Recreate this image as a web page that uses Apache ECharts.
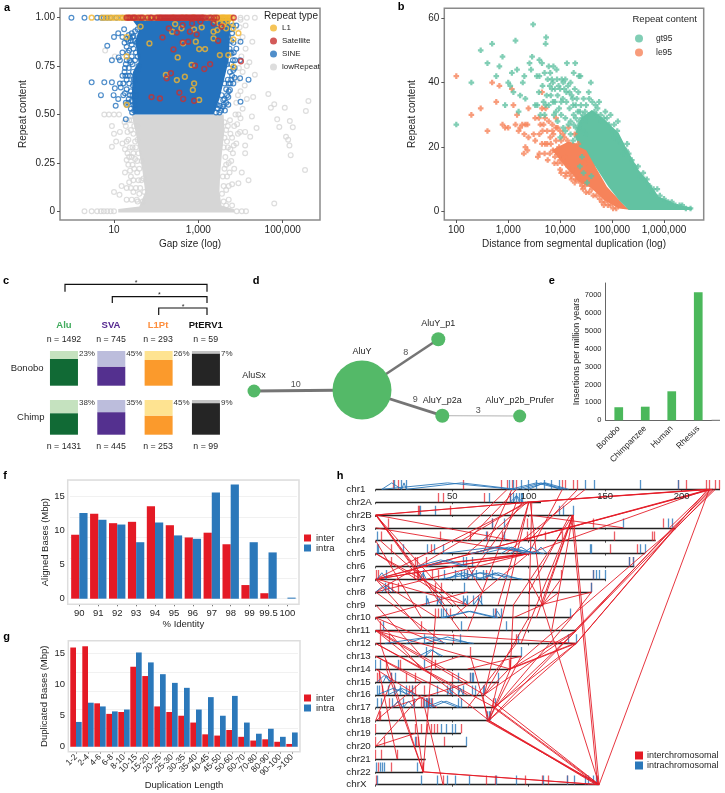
<!DOCTYPE html>
<html>
<head>
<meta charset="utf-8">
<title>Repeat and duplication panels</title>
<script src="https://cdn.jsdelivr.net/npm/echarts@6/dist/echarts.min.js"></script>
<style>
  html, body { margin: 0; padding: 0; background: #fff; }
  #chart { width: 725px; height: 793px; }
</style>
</head>
<body>
<div id="chart"></div>
<script>
// panel a: [log10 gap size, repeat content]
const l1Top = [0.47,0.72,0.8,0.88,0.95,1.02,1.1,1.16,1.22,1.28,1.36,1.42,1.5,1.55,1.62,1.7,1.76,1.84,1.95,2.05,2.4,2.62,2.72,2.86,2.9,3.1,3.2,3.3,3.36,3.42,3.48,3.52,3.55,3.58,3.6,3.63,3.66,3.7,3.73,3.76,3.8];
const satelliteTop = [1.3,1.34,1.38,1.44,1.47,1.5,1.58,1.64,1.68,1.8,1.87,1.9,2.0,2.03,2.08,2.1,2.13,2.16,2.19,2.22,2.25,2.28,2.31,2.34,2.37,2.4,2.43,2.46,2.49,2.52,2.55,2.58,2.61,2.64,2.67,2.7,2.73,2.76,2.79,2.82,2.85,2.88,2.91,2.94,2.97,3.0,3.03,3.06,3.09,3.12,3.16,3.25,3.3,3.38,3.44,3.84];
const sineTop = [-0.01,0.3,0.6,0.7,0.76,0.84,0.92,1.06,1.2];
const lowTop = [4.0,4.15,4.34];
const l1Points = [[2.45,0.967],[2.38,0.928],[2.6,0.945],[1.84,0.867],[1.3,0.8],[1.3,0.55],[2.23,0.704],[2.49,0.678],[2.68,0.695],[2.51,0.795],[2.64,0.868],[2.94,0.876],[3.02,0.838],[3.16,0.838],[3.51,0.807],[3.71,0.807],[3.83,0.747],[2.9,0.94],[3.08,0.95],[3.36,0.928],[3.36,0.893],[3.45,0.936],[3.66,0.945],[3.83,0.945],[3.95,0.92],[3.83,0.888],[2.84,0.756],[2.9,0.66],[2.87,0.627],[3.02,0.575],[1.63,0.954],[1.3,0.9],[3.5,0.97],[3.58,0.96],[3.7,0.985],[3.78,0.975],[3.4,0.985],[3.62,0.975]];
const satellitePoints = [[2.15,0.898],[2.3,0.945],[2.49,0.923],[2.63,0.962],[2.8,0.928],[2.96,0.914],[2.76,0.876],[2.41,0.836],[2.63,0.873],[2.35,0.713],[2.25,0.687],[2.55,0.613],[1.89,0.59],[2.09,0.583],[2.64,0.58],[2.9,0.571],[2.92,0.752],[3.14,0.735],[3.28,0.76],[3.47,0.881],[3.55,0.954],[4.01,0.775],[3.36,0.97],[2.85,0.97],[3.05,0.98]];
const sinePoints = [[1.1,0.92],[1.24,0.94],[0.84,0.855],[1.0,0.9],[0.95,0.78],[1.11,0.795],[1.14,0.78],[0.47,0.666],[0.77,0.666],[0.95,0.666],[0.69,0.6],[0.99,0.6],[1.04,0.545],[1.14,0.66],[1.02,0.635],[1.1,0.58],[1.16,0.64],[1.28,0.475],[1.28,0.56],[1.26,0.61],[1.2,0.9],[1.25,0.87],[1.3,0.85],[1.2,0.82],[1.3,0.78],[1.35,0.74],[1.25,0.72],[1.2,0.7],[1.3,0.68],[1.22,0.66],[1.3,0.63],[1.22,0.6],[1.35,0.58],[1.3,0.55],[1.4,0.53],[1.42,0.86],[1.42,0.8],[1.45,0.72],[1.45,0.65],[1.35,0.91],[1.42,0.92],[1.5,0.93],[1.56,0.94],[1.62,0.95],[1.3,0.89],[1.38,0.895],[1.46,0.905],[1.28,0.76],[1.27,0.7],[1.26,0.74],[1.36,0.83],[1.4,0.77],[1.38,0.7],[1.4,0.62],[1.42,0.57],[1.5,0.88],[1.52,0.82],[1.5,0.78],[1.55,0.73],[1.5,0.68],[1.52,0.6],[1.5,0.55],[3.9,0.96],[4.0,0.876],[3.99,0.78],[4.19,0.68],[3.99,0.687],[4.0,0.566],[3.71,0.55],[3.42,0.51],[3.51,0.545],[3.75,0.627],[3.83,0.66],[3.83,0.73],[3.87,0.78],[3.79,0.815],[3.83,0.87],[3.71,0.9],[3.79,0.94],[3.71,0.59],[3.59,0.575],[3.63,0.52],[3.46,0.53],[3.55,0.6],[3.66,0.63],[3.7,0.68],[3.75,0.72],[3.68,0.76],[3.78,0.76],[3.74,0.84],[3.7,0.96],[3.6,0.55],[3.62,0.66],[3.72,0.66],[3.86,0.69],[3.9,0.84],
  [1.34,0.88],[1.4,0.88],[1.33,0.82],[1.37,0.78],[1.33,0.7],[1.36,0.66],[1.38,0.6],[1.34,0.56],[1.44,0.9],[1.46,0.84],[1.44,0.76],[1.47,0.68],[1.44,0.6],[1.46,0.55],[1.48,0.52],[1.43,0.51],[1.54,0.87],[1.56,0.8],[1.58,0.75],[3.5,0.51],[3.44,0.55],[3.54,0.52],[3.58,0.54],[3.62,0.58],[3.66,0.56],[3.68,0.6],[3.72,0.62],[3.76,0.66],[3.8,0.7],[3.78,0.68],[3.82,0.78],[3.84,0.82],[3.86,0.74],[3.78,0.88],[3.8,0.92],[3.82,0.96],[3.76,0.82]];
const lowPoints = [[4.66,0.606],[5.61,0.57],[5.55,0.518],[5.05,0.535],[4.8,0.553],[4.72,0.535],[4.87,0.475],[4.92,0.435],[5.17,0.466],[5.24,0.434],[5.08,0.385],[5.13,0.37],[5.16,0.34],[5.19,0.29],[5.53,0.213],[4.8,0.04],[4.38,0.43],[4.28,0.876],[4.21,0.77],[4.34,0.705],[4.3,0.59],[4.27,0.49],[4.23,0.385],[4.19,0.16],[4.03,0.2],[3.95,0.145],[4.11,0.3],[4.11,0.34],[4.11,0.41],[3.99,0.41],[0.79,0.83],[1.02,0.8],[0.77,0.5],[0.88,0.5],[1.0,0.5],[1.12,0.5],[0.95,0.44],[0.95,0.333],[1.0,0.4],[1.05,0.36],[1.14,0.41],[1.0,0.1],[1.13,0.085],[1.18,0.13],[1.3,0.12],[1.3,0.06],[1.42,0.06],[1.26,0.2],[1.3,0.265],[1.26,0.32],[1.2,0.35],[1.34,0.37],[1.38,0.21],[1.46,0.16],[1.54,0.06],[1.28,0.44],[1.36,0.47],[1.4,0.42],[1.32,0.3],[1.46,0.4],[1.44,0.33],[1.5,0.27],[1.44,0.24],[1.55,0.2],[1.52,0.12],[1.6,0.09],[1.68,0.05],[1.36,0.15],[1.5,0.36],[1.55,0.44],[3.75,0.47],[3.85,0.44],[3.8,0.38],[3.9,0.35],[3.7,0.33],[3.82,0.3],[3.72,0.25],[3.85,0.22],[3.68,0.18],[3.8,0.14],[3.66,0.11],[3.72,0.06],[3.6,0.05],[3.95,0.5],[4.05,0.53],[4.0,0.62],[4.1,0.65],[4.05,0.72],[4.15,0.75],[4.02,0.8],[4.12,0.84],[4.05,0.9],[4.12,0.96],[4.0,0.48],[4.15,0.58],[0.3,0],[0.47,0],[0.6,0],[0.69,0],[0.76,0],[0.84,0],[0.92,0],[1.0,0],[3.91,0],[4.03,0],[4.13,0],
  [1.25,0.46],[1.32,0.41],[1.3,0.36],[1.38,0.33],[1.36,0.28],[1.42,0.28],[1.34,0.24],[1.4,0.18],[1.48,0.22],[1.46,0.3],[1.52,0.33],[1.48,0.44],[1.42,0.47],[1.56,0.37],[1.58,0.3],[1.55,0.26],[1.6,0.22],[1.58,0.16],[1.65,0.16],[1.62,0.12],[1.46,0.1],[1.4,0.12],[1.56,0.05],[1.72,0.1],[1.7,0.17],[1.66,0.26],[3.62,0.46],[3.66,0.42],[3.7,0.44],[3.62,0.38],[3.68,0.36],[3.76,0.4],[3.6,0.33],[3.64,0.28],[3.76,0.32],[3.78,0.26],[3.62,0.22],[3.66,0.24],[3.74,0.2],[3.58,0.18],[3.6,0.13],[3.72,0.13],[3.56,0.09],[3.66,0.03],[3.8,0.03],[3.88,0.5],[3.92,0.45],[3.94,0.4],[3.84,0.34],[3.9,0.56],[3.94,0.6],[3.92,0.68],[3.96,0.74],[3.94,0.88],[3.98,0.95],[4.0,0.99]];
// dense cores as outlines [log10 gap size, repeat content]
const sineCore = [[1.46,0.5],[1.42,0.6],[1.45,0.72],[1.58,0.77],[1.5,0.88],[1.6,0.94],[1.4,1.0],[3.75,1.0],[3.75,0.93],[3.72,0.78],[3.6,0.67],[3.5,0.58],[3.36,0.5]];
const lowCore = [[1.42,0.5],[1.52,0.4],[1.6,0.3],[1.68,0.2],[1.74,0.1],[1.6,0.025],[1.1,0.012],[1.1,-0.006],[3.85,-0.006],[3.85,0.01],[3.55,0.03],[3.5,0.1],[3.52,0.2],[3.56,0.3],[3.62,0.42],[3.6,0.5]];

// panel b: [log10 distance, repeat content]
const gt95Points = [[2,27],[2.29,40],[2.47,50],[2.6,46],[2.69,52],[2.77,42],[2.83,45],[2.89,48],[2.94,33],[3,40],[3.04,39],[3.07,43],[3.1,37],[3.14,53],[3.17,44],[3.2,31],[3.23,36],[3.28,40],[3.31,42],[3.33,35],[3.41,46],[3.44,44],[3.46,48],[3.48,58],[3.52,33],[3.55,42],[3.59,37],[3.6,47],[3.6,42],[3.65,46],[3.73,54],[3.72,52],[3.68,34],[3.78,45],[3.81,43],[3.84,41],[3.87,45],[3.93,44],[4.13,46],[4.29,46],[3.97,39],[4.03,41],[4.1,41],[4.26,43],[4.36,42],[4.39,42],[4.59,40],[4.55,37],[4.68,33],[4.75,34],[4.87,31],[4.97,30],[5.11,28],[5.04,27],[5.29,21],[5.27,19],[5.6,12],[5.5,14],[5.67,10],[5.8,7],[5.87,7],[6.15,3],[6.35,2],[6.51,1],[3.56,33],[3.62,30],[3.7,30],[3.78,33],[3.82,36],[3.84,38],[3.9,34],[3.95,36],[3.98,32],[3.88,30],[3.95,28],[4.02,30],[4.05,35],[4.08,38],[4.12,34],[4.15,39],[4.18,37],[4.18,32],[4.22,36],[4.25,33],[4.28,38],[4.32,35],[4.35,37],[4.4,33],[4.45,35],[4.42,29],[4.48,31],[4.1,29],[4.2,28],[4.3,29],[4.35,26],[4.5,33],[4.55,30],[4.62,34],[4.7,30],[4.8,28],[4.9,29],[5.0,25],[5.1,25],[4.0,23],[4.1,25],[4.2,24],[4.25,22],[4.42,17],[4.38,14],[4.45,12],[4.52,9],[4.6,11],
  [3.7,43],[3.76,41],[3.8,39],[3.86,40],[3.9,38],[3.94,41],[4.0,38],[4.06,40],[4.12,37],[4.2,40],[4.24,35],[4.3,33],[4.38,31],[4.44,30],[4.5,28],[4.56,35],[4.6,30],[4.66,31],[4.72,32],[4.78,30],[4.84,29],[4.94,27],[5.04,23],[5.12,22],[5.18,21],[5.22,18],[5.32,18],[5.38,16],[5.44,14],[5.54,11],[5.62,10],[5.72,8],[5.78,6],[5.92,5],[6.0,4],[6.08,3],[6.22,2],[6.3,2],[6.42,1],[4.3,26],[4.32,23],[4.38,27],[4.44,25],[4.5,24],[4.36,28],[4.26,27],[4.16,27],[4.06,26],[4.02,34],[3.92,31],[3.86,34],[3.74,36],[3.66,39],[3.72,33],[4.26,30],[4.34,31]];
const le95Points = [[2,42],[2.29,30],[2.47,32],[2.6,25],[2.69,40],[2.77,34],[2.83,39],[2.89,27],[2.94,26],[3,26],[3.07,38],[3.1,33],[3.14,27],[3.17,30],[3.2,25],[3.23,26],[3.27,27],[3.33,27],[3.31,24],[3.39,32],[3.37,27],[3.39,23],[3.33,20],[3.3,18],[3.37,19],[3.52,29],[3.59,29],[3.65,37],[3.65,32],[3.57,17],[3.52,22],[3.49,24],[3.62,27],[3.68,27],[3.71,29],[3.75,25],[3.71,21],[3.7,18],[3.81,23],[3.87,24],[3.89,15],[4,13],[4.1,11],[4.21,11],[4.39,9],[4.61,7],[4.87,3],[4.97,2],[5.13,2],[3.6,24],[3.65,21],[3.6,18],[3.75,21],[3.8,18],[3.76,16],[3.85,27],[3.92,22],[3.95,26],[3.98,20],[4.05,24],[4.16,26],[4.08,17],[3.95,15],[4.02,12],[4.15,14],[4.25,13],[4.3,10],[4.42,8],[4.5,6],[4.55,12],[4.48,15],
  [3.72,32],[3.78,28],[4.28,24],[4.35,21],[3.92,29],[3.66,25],[3.82,21],[3.86,19],[3.9,17],[3.94,19],[4.0,16],[4.04,15],[4.12,12],[4.18,12],[4.22,10],[4.28,9],[4.34,10],[4.44,7],[4.48,8],[4.56,6],[4.64,5],[4.7,5],[4.76,4],[4.8,3],[4.84,2],[4.92,2],[5.02,1],[5.08,1],[3.92,26],[4.02,22],[4.08,23],[4.14,22],[4.0,25],[3.85,25]];
const gt95Core = [[4.28,24],[4.4,29],[4.61,31.5],[4.87,28.4],[5.13,24.3],[5.26,20.1],[5.51,12.9],[5.7,9.3],[5.9,4.6],[6.28,2.1],[6.54,1.3],[6.54,0.5],[5.32,0.5],[5.13,3.6],[4.93,7.7],[4.68,13.9],[4.5,19],[4.36,20.1]];
const le95Core = [[3.84,19.1],[4.16,21.7],[4.55,20.1],[4.68,13.9],[4.9,7.7],[5.26,1.5],[5.38,0.5],[5.13,1],[4.84,3.6],[4.61,7.2],[4.36,9.3],[4.1,13.9]];

// panel c
const familyNames = ['Alu', 'SVA', 'L1Pt', 'PtERV1'];
const bonoboN = [1492, 745, 293, 59];
const chimpN = [1431, 445, 253, 99];
const bonoboPct = [23, 45, 26, 7];
const chimpPct = [38, 35, 45, 9];
const familyDark = ['#116a35', '#54308f', '#fb9a2c', '#252525'];
const familyLight = ['#c5e2bf', '#bcbddc', '#fee391', '#c4c4c4'];
const familyText = ['#41ab5d', '#54278f', '#fd8d3c', '#111111'];

// panel d, layout units
const aluNodes = [['AluSx',14,71,13],['AluY',122,70,59],['AluY_p1',198.3,19.3,14],['AluY_p2a',202.3,95.7,14],['AluY_p2b_Prufer',279.7,96,13]];
const aluEdges = [['AluSx','AluY',10],['AluY','AluY_p1',8],['AluY','AluY_p2a',9],['AluY_p2a','AluY_p2b_Prufer',3]];
const aluEdgeLabels = [[55.7,64.3,10],[165.7,32.7,8],[175.3,80,9],[238.3,90.7,3]];

// panel e
const species = ['Bonobo', 'Chimpanzee', 'Human', 'Rhesus'];
const insertions = [730, 760, 1620, 7150];
const insertionTicks = [0, 1000, 2000, 3000, 4000, 5000, 6000, 7000];

// panel f
const identityBins = ['90','91','92','93','94','95','96','97','98','99','99.5','100'];
const alignedInter = [9.4,12.5,11.1,11.3,13.6,10.8,9.0,9.7,8.0,2.0,0.8,0];
const alignedIntra = [12.6,11.6,10.9,8.3,11.2,9.3,8.8,15.6,16.8,8.3,6.8,0.15];

// panel g
const lengthBins = ['1-2','2-4','4-6','6-8','8-10','10-15','15-20','20-25','25-30','30-35','35-40','40-45','45-50','50-60','60-70','70-80','80-90','90-100','>100'];
const duplicatedInter = [16,16.2,7.0,5.3,5.6,12.9,11.4,6.5,5.6,5.0,3.9,2.0,1.8,2.7,1.6,1.0,1.2,0.8,0.45];
const duplicatedIntra = [4.0,7.1,6.5,5.7,6.0,15.2,13.6,11.7,10.3,9.5,6.0,8.0,5.0,8.2,3.9,2.1,2.9,1.6,2.3];

// panel h, positions in Mb
const chroms = ['chr1','chr2A','chr2B','chr3','chr4','chr5','chr6','chr7','chr8','chr9','chr10','chr11','chr12','chr13','chr14','chr15','chr16','chr17','chr18','chr19','chr20','chr21','chr22','chrX'];
const chromLengths = [225,108,129,196,183,176,169,150.5,141,109.5,128,131,131,95.4,88,80.6,71,78,74.7,55.7,59.5,32.7,31,146];
const interTicks = [
  [11.5,15,57,82,86,89,92,122,124,129,132,198,203,216,218,222,224.5],
  [41,44,71,88],
  [28,28.6,49],
  [8,76,99,142,188],
  [3.5,42,62,73,83,99,111,122,156,181,182],
  [10,36,153,171],
  [10,26,27,33,166,168],
  [0.5,1.5,25,27,28,37,41,60,72,121,142],
  [8,11,15,39,43,141],
  [],
  [39,41,49,78],
  [3,30],
  [3,9,51,92],
  [62],
  [7,16,39,87,88],
  [1,2,10,20,26,50,62],
  [4,22,24,26,32],
  [9,30,31,33,35,37,77],
  [2,3],
  [0,26,30,34,36,38,40,56],
  [0,5.5,26.5,28,45],
  [0,3.5,14],
  [1.5,10,31],
  [0.5,44,72,78,98,109,113,125,145]
];
const intraTicks = [
  [12,17,20,87,90,95,100,105,110,115,120,137,143,173,198],
  [74,88,90,92,94,95,96],
  [29,39,120,122.5,129],
  [76,84,162,191,194],
  [1,72,84],
  [0.7,1.4,18,34,38,44,140,141,173,176],
  [57,59,63,166,168],
  [7,31,45,52,56,58,60,63,66,70,76,142,144,146,150],
  [6,58,141],
  [33,40,43,57,60,64,67,69],
  [43,44,46,77,79,82,127],
  [5,56,85],
  [32,55,93,126,131],
  [33,95],
  [0,3,15,32],
  [10,13,54,62,63,64,80],
  [1,2,8,12,16,20,24,40,47,49,50,54,57,63,65,70,71],
  [1,3.5,11,18,25,32,33,34,35,36,54,56,78],
  [73,74,74.7],
  [43,46,50,52],
  [26,59],
  [],
  [0.5,3,4,5.6,27],
  [1,30,40,47,52,61,78.5,92,109.5,125,130,137,139,142,144]
];
const intraArcs = [
  ['chr1',4,17],['chr1',17,20],['chr1',4,90],['chr1',20,92],['chr1',88,122],['chr1',92,124],['chr1',96,126],['chr1',100,120],
  ['chr2A',88,96],['chr2A',90,94],
  ['chr5',44,110],['chr5',62,100],['chr5',70,104],['chr5',82,96],['chr5',88,102],['chr5',96,108],['chr5',104,112],
  ['chr6',27,58],['chr6',34,60],
  ['chr7',1,7],['chr7',29,33],['chr7',42,96],['chr7',45,70],['chr7',56,80],['chr7',66,94],['chr7',70,86],['chr7',48,60],
  ['chr8',0,10],['chr8',4,12],
  ['chr9',33,35],['chr9',40,43],['chr9',57,60],['chr9',64,70],
  ['chr10',43,78],['chr10',44,80],['chr10',77,82],
  ['chr12',6,64],['chr12',20,46],['chr12',32,62],
  ['chr13',28,44],['chr13',32,42],
  ['chr15',1,10],['chr15',5,9],
  ['chr16',1,22],['chr16',8,26],['chr16',12,20],['chr16',47,50],['chr16',54,57],
  ['chr17',11,18],['chr17',18,25],['chr17',32,54],['chr17',36,56]
];
const interLinks = [
  ['chr1',218,'chr2A',100],['chr1',220,'chr2A',101],['chr1',216,'chr2A',99],
  ['chr1',220,'chr7',0],['chr1',218,'chr7',1],['chr1',217,'chr5',100],['chr1',219,'chr4',95],
  ['chr1',222,'chr3',196],['chr1',220,'chr3',194],['chr1',218,'chr3',192],
  ['chr1',221,'chr11',131],['chr1',219,'chr11',130],['chr1',217,'chr12',131],['chr1',218,'chrX',146],
  ['chr1',137,'chr5',85],['chr1',122,'chr5',100],['chr1',132,'chr4',100],['chr1',92,'chr4',60],['chr1',86,'chr3',60],['chr1',89,'chr5',70],
  ['chr2A',100,'chr2B',0],['chr2A',101,'chr2B',0.5],['chr2A',100,'chr7',0],['chr2A',98,'chr8',0],['chr2A',99,'chr5',60],
  ['chr2A',100,'chr9',80],['chr2A',101,'chr9',109],['chr2A',102,'chr10',100],['chr2A',100,'chr16',71],['chr2A',92,'chr11',60],
  ['chr2A',96,'chr7',60],
  ['chr2B',0,'chr9',45],['chr2B',0,'chr10',60],['chr2B',0,'chr4',90],['chr2B',0,'chr7',30],['chr2B',0.5,'chr11',55],
  ['chr2B',129,'chrX',146],['chr2B',128,'chrX',145],['chr2B',129,'chr9',109],['chr2B',129,'chr10',105],
  ['chr2B',129,'chr12',95],['chr2B',127,'chr8',100],['chr2B',129,'chr11',115],['chr2B',129,'chr9',90],
  ['chr3',0,'chr5',100],['chr3',162,'chr2B',100],['chr3',196,'chr12',131],['chr3',195,'chr14',88],['chr3',194,'chr11',131],
  ['chr4',0,'chr10',30],['chr4',3,'chr9',50],
  ['chr5',0,'chr9',60],['chr5',0,'chr8',40],['chr5',100,'chr7',0.5],['chr5',101,'chr7',1],['chr5',100,'chr8',0],['chr5',100,'chr10',50],
  ['chr6',27,'chr5',100],['chr6',30,'chr5',102],['chr6',60,'chr8',70],
  ['chr7',0,'chr10',40],['chr7',0,'chr11',30],['chr7',1,'chr9',60],['chr7',121,'chr9',109],['chr7',100,'chr9',109],
  ['chr8',0,'chr12',45],['chr8',60,'chr10',0],['chr8',120,'chr9',109],['chr8',141,'chr9',108],
  ['chr9',109,'chrX',146],['chr9',109,'chr10',90],['chr9',0,'chr13',30],['chr9',90,'chr14',88],
  ['chr10',0,'chr14',30],['chr10',0,'chr12',40],['chr10',100,'chr16',71],['chr10',128,'chr17',78],['chr10',128,'chr8',141],
  ['chr11',0,'chr14',88],['chr11',0,'chr16',71],['chr11',0,'chr18',74],['chr11',0,'chr12',131],['chr11',1,'chr15',60],['chr11',131,'chr18',74],['chr11',131,'chr17',78],['chr11',131,'chr16',71],['chr11',131,'chr14',88],
  ['chr12',0,'chr17',78],['chr12',0,'chr16',60],['chr12',131,'chr18',74],['chr12',131,'chr17',77],['chr12',131,'chr14',88],['chr12',130,'chr14',87],['chr12',92,'chr17',60],
  ['chr13',0,'chr16',50],['chr13',0,'chr15',30],['chr13',95,'chr17',78],['chr13',95,'chr14',60],['chr13',62,'chr18',74],
  ['chr14',0,'chr17',40],['chr14',88,'chr18',74],['chr14',87,'chr16',71],['chr14',30,'chr13',55],['chr14',7,'chr22',31],
  ['chr15',10,'chr18',0],['chr15',30,'chr18',0.5],['chr15',80,'chr18',74],['chr15',62,'chr17',10],
  ['chr16',71,'chrX',146],['chr16',70,'chr18',73],['chr16',30,'chr20',0],['chr16',24,'chr22',31],
  ['chr17',78,'chrX',146],['chr17',77,'chrX',145],['chr17',32,'chrX',44],['chr17',78,'chr18',74],
  ['chr18',74,'chrX',146],['chr18',73,'chrX',145],['chr18',74,'chrX',144],['chr18',72,'chrX',146],
  ['chr19',26,'chr20',0],['chr12',3,'chr22',31],['chr10',39,'chr22',31],
  ['chr22',31,'chrX',146],['chr22',30,'chrX',145],['chr21',14,'chr14',2]
];

const FONT = 'Liberation Sans, Arial, sans-serif';
const INK = '#1f1f1f';
const RED = '#e41a25';
const BLUE = '#2b78ba';
const PLUS = 'path://M3,0h4v3h3v4h-3v3h-4v-3h-3v-4h3z';
const chart = echarts.init(document.getElementById('chart'));

// outline drawn through the axis scales
function coreSeries(outline, fill, xIdx) {
  return {
    type: 'custom', name: 'core', coordinateSystem: 'cartesian2d', xAxisIndex: xIdx, yAxisIndex: xIdx,
    data: [0], silent: true,
    renderItem: (params, api) => ({
      type: 'polygon',
      shape: { points: outline.map((p) => api.coord(p)) },
      style: { fill: fill }
    })
  };
}
function openCircles(name, pts, color, xIdx, width) {
  return {
    type: 'scatter', name: name, xAxisIndex: xIdx, yAxisIndex: xIdx, data: pts, symbolSize: 4.8,
    itemStyle: { color: 'transparent', borderColor: color, borderWidth: width || 1.2 }
  };
}
function plusMarks(name, pts, color, xIdx) {
  return {
    type: 'scatter', name: name, xAxisIndex: xIdx, yAxisIndex: xIdx, data: pts, symbol: PLUS, symbolSize: 5.6,
    itemStyle: { color: color }
  };
}
function logAxis(idx, min, max, ticks, name, nameGap) {
  return {
    type: 'value', gridIndex: idx, min: min, max: max, name: name, nameLocation: 'middle', nameGap: nameGap,
    nameTextStyle: { fontFamily: FONT, fontSize: 10, color: INK },
    axisLine: { show: false, onZero: false }, splitLine: { show: false },
    axisTick: { show: true, length: 3, customValues: ticks, lineStyle: { color: '#555' } },
    axisLabel: { customValues: ticks, margin: 5, fontFamily: FONT, fontSize: 10, color: INK,
      formatter: (v) => Math.round(Math.pow(10, v)).toLocaleString('en-US') }
  };
}
function plainY(idx, min, max, ticks, name, nameGap, fmt, size) {
  return {
    type: 'value', gridIndex: idx, min: min, max: max, name: name, nameLocation: 'middle', nameGap: nameGap,
    nameTextStyle: { fontFamily: FONT, fontSize: size, color: INK },
    axisLine: { show: false, onZero: false }, splitLine: { show: false },
    axisTick: { show: true, length: 3, customValues: ticks, lineStyle: { color: '#555' } },
    axisLabel: { customValues: ticks, margin: 5, fontFamily: FONT, fontSize: size, color: INK, formatter: fmt }
  };
}
function hiddenAxes(idx, xmin, xmax, ymin, ymax, inv) {
  return [
    { type: 'value', gridIndex: idx, min: xmin, max: xmax, show: false },
    { type: 'value', gridIndex: idx, min: ymin, max: ymax, show: false, inverse: !!inv }
  ];
}
function familyBars(idx, pct) {
  return [
    { type: 'bar', xAxisIndex: idx, yAxisIndex: idx, stack: 's' + idx, barWidth: 28,
      data: pct.map((v, i) => ({ value: 100 - v, itemStyle: { color: familyDark[i] } })) },
    { type: 'bar', xAxisIndex: idx, yAxisIndex: idx, stack: 's' + idx, barWidth: 28,
      data: pct.map((v, i) => ({ value: v, itemStyle: { color: familyLight[i] } })),
      label: { show: true, position: ['100%', -1], formatter: (p) => p.value + '%', align: 'left', verticalAlign: 'top',
        fontFamily: FONT, fontSize: 8, color: '#333', padding: [0, 0, 0, 1] } }
  ];
}
function pairBars(idx, a, b, width) {
  return [
    { type: 'bar', name: 'inter', xAxisIndex: idx, yAxisIndex: idx, data: a, barWidth: width, barGap: 0, itemStyle: { color: RED } },
    { type: 'bar', name: 'intra', xAxisIndex: idx, yAxisIndex: idx, data: b, barWidth: width, barGap: 0, itemStyle: { color: BLUE } }
  ];
}
function categoryBottom(idx, cats, rotate, name, nameGap) {
  return {
    type: 'category', gridIndex: idx, data: cats, name: name, nameLocation: 'middle', nameGap: nameGap,
    nameTextStyle: { fontFamily: FONT, fontSize: 9.5, color: INK },
    axisLine: { show: false, onZero: false },
    axisTick: { show: true, alignWithLabel: true, length: 2, lineStyle: { color: '#777' } },
    axisLabel: { interval: 0, rotate: rotate, margin: 4, fontFamily: FONT, fontSize: rotate ? 8.5 : 9.5, color: INK }
  };
}
function faintY(idx, min, max, name, nameGap) {
  return {
    type: 'value', gridIndex: idx, min: min, max: max, name: name, nameLocation: 'middle', nameGap: nameGap,
    nameTextStyle: { fontFamily: FONT, fontSize: 9.5, color: INK },
    axisLine: { show: false }, axisTick: { show: false },
    splitLine: { show: true, lineStyle: { color: '#f1f1f1' } },
    axisLabel: { customValues: [0, 5, 10, 15], margin: 5, fontFamily: FONT, fontSize: 9.5, color: INK }
  };
}

// grids: 0 a, 1 b, 2-3 c, 4 d, 5 e, 6 f, 7 g, 8 h
const grids = [
  { left: 60, top: 8.3, width: 260, height: 211.7, show: true, borderColor: '#8a8a8a', borderWidth: 1.5, backgroundColor: '#fff' },
  { left: 444.3, top: 8.3, width: 259.4, height: 211.7, show: true, borderColor: '#8a8a8a', borderWidth: 1.5, backgroundColor: '#fff' },
  { left: 40.3, top: 351, width: 189.3, height: 34.7 },
  { left: 40.3, top: 400, width: 189.3, height: 34.7 },
  { left: 240, top: 320, width: 300, height: 120 },
  { left: 605.5, top: 283, width: 106, height: 137.3 },
  { left: 69.9, top: 480, width: 227, height: 124.3 },
  { left: 70, top: 640.7, width: 228, height: 111 },
  { left: 375.7, top: 476.46, width: 344.3, height: 314.6 }
];

const rowAxisY = {
  type: 'value', gridIndex: 8, min: -1, max: 23.5, inverse: true,
  axisLine: { show: false }, axisTick: { show: false }, splitLine: { show: false },
  axisLabel: { customValues: chroms.map((c, i) => i), margin: 29.4, align: 'left', fontFamily: FONT, fontSize: 9.8, color: INK,
    formatter: (v) => chroms[v] }
};
const rowAxisX = {
  type: 'value', gridIndex: 8, min: 0, max: 225, position: 'top',
  axisLine: { show: false, onZero: true }, axisTick: { show: false }, splitLine: { show: false },
  axisLabel: { show: false }
};

const xAxes = [
  logAxis(0, -0.2806, 5.885, [1, 3, 5], 'Gap size (log)', 19),
  logAxis(1, 1.769, 6.764, [2, 3, 4, 5, 6], 'Distance from segmental duplication (log)', 19),
  { type: 'category', gridIndex: 2, data: familyNames, show: false },
  { type: 'category', gridIndex: 3, data: familyNames, show: false },
  hiddenAxes(4, 0, 300, 0, 120)[0],
  { type: 'category', gridIndex: 5, data: species,
    axisLine: { lineStyle: { color: '#666', width: 1 } }, axisTick: { show: false },
    axisLabel: { interval: 0, rotate: 45, margin: 7, fontFamily: FONT, fontSize: 8.5, color: INK } },
  categoryBottom(6, identityBins, 0, '% Identity', 15),
  categoryBottom(7, lengthBins, 45, 'Duplication Length', 26),
  rowAxisX
];
const yAxes = [
  plainY(0, -0.045, 1.0485, [0, 0.25, 0.5, 0.75, 1], 'Repeat content', 32, (v) => (v === 0 ? '0' : v.toFixed(2)), 10),
  plainY(1, -2.58, 63, [0, 20, 40, 60], 'Repeat content', 27, (v) => String(v), 10),
  { type: 'value', gridIndex: 2, min: 0, max: 100, show: false },
  { type: 'value', gridIndex: 3, min: 0, max: 100, show: false },
  hiddenAxes(4, 0, 300, 0, 120, true)[1],
  { type: 'value', gridIndex: 5, min: 0, max: 7670, name: 'Insertions per million years', nameLocation: 'middle', nameGap: 24,
    nameTextStyle: { fontFamily: FONT, fontSize: 9, color: INK },
    axisLine: { show: true, lineStyle: { color: '#666' } }, axisTick: { show: false }, splitLine: { show: false },
    axisLabel: { customValues: insertionTicks, margin: 4, fontFamily: FONT, fontSize: 7.5, color: INK, formatter: (v) => String(v) } },
  faintY(6, -0.83, 17.45, 'Aligned Bases (Mbp)', 20),
  faintY(7, -0.8, 17.1, 'Duplicated Bases (Mbp)', 21),
  rowAxisY
];

// panel h marks, built from the Mb tables
const rowLines = chroms.map((c, i) => ({ coords: [[0, i], [chromLengths[i], i]] }));
const rowScale = [];
chroms.forEach((c, i) => {
  for (let p = 0; p <= chromLengths[i]; p += 50) rowScale.push({ coords: [[p, i], [p, i + 0.16]] });
});
const tickCoords = (table) => {
  const out = [];
  table.forEach((row, i) => row.forEach((p) => out.push({ coords: [[p, i], [p, i - 0.72]] })));
  return out;
};
const linkCoords = interLinks.map((l) => ({ coords: [[l[1], chroms.indexOf(l[0])], [l[3], chroms.indexOf(l[2])]] }));
const arcCoords = intraArcs.map((a) => {
  const r = chroms.indexOf(a[0]);
  return { coords: [[a[1], r], [(a[1] + a[2]) / 2, r - 0.5], [a[2], r]] };
});
const hLines = (name, data, color, width, opacity, polyline) => ({
  type: 'lines', name: name, coordinateSystem: 'cartesian2d', xAxisIndex: 8, yAxisIndex: 8, polyline: !!polyline,
  data: data, silent: true, symbol: 'none', effect: { show: false },
  lineStyle: { color: color, width: width, opacity: opacity, curveness: 0 }
});

const series = [
  coreSeries(lowCore, '#d6d6d6', 0),
  openCircles('lowRepeat', lowPoints.concat(lowTop.map((x) => [x, 1])), '#d4d4d4', 0),
  coreSeries(sineCore, '#2472bd', 0),
  openCircles('SINE', sinePoints.concat(sineTop.map((x) => [x, 1])), '#2472bd', 0),
  openCircles('L1', l1Points.concat(l1Top.map((x) => [x, 1])), '#f2b52e', 0, 1.5),
  openCircles('Satellite', satellitePoints.concat(satelliteTop.map((x) => [x, 1])), '#c8312f', 0, 1.5),

  plusMarks('le95', le95Points, '#f6835a', 1),
  coreSeries(le95Core, '#f6835a', 1),
  plusMarks('gt95', gt95Points, '#62c2a2', 1),
  coreSeries(gt95Core, '#62c2a2', 1),

  ...familyBars(2, bonoboPct),
  ...familyBars(3, chimpPct),

  {
    type: 'graph', coordinateSystem: 'cartesian2d', xAxisIndex: 4, yAxisIndex: 4,
    data: aluNodes.map((n) => ({ name: n[0], value: [n[1], n[2]], symbolSize: n[3] })),
    links: aluEdges.map((e) => ({ source: e[0], target: e[1], value: e[2],
      lineStyle: { width: e[2] * 0.32, color: e[2] < 5 ? '#b0b0b0' : '#757575' } })),
    itemStyle: { color: '#54b968' }, lineStyle: { opacity: 1, curveness: 0 },
    label: { show: true, position: 'top', distance: 4, formatter: '{b}', fontFamily: FONT, fontSize: 9, color: INK }
  },
  {
    type: 'scatter', xAxisIndex: 4, yAxisIndex: 4, data: aluEdgeLabels, symbolSize: 0, silent: true,
    label: { show: true, position: 'inside', formatter: (p) => p.value[2], fontFamily: FONT, fontSize: 9, color: INK }
  },

  { type: 'bar', xAxisIndex: 5, yAxisIndex: 5, data: insertions, barWidth: 8.7, itemStyle: { color: '#4bb85b' } },

  ...pairBars(6, alignedInter, alignedIntra, 8.2),
  ...pairBars(7, duplicatedInter, duplicatedIntra, 5.7),

  hLines('rows', rowLines, '#222', 1.3, 1),
  hLines('scale', rowScale, '#222', 0.8, 1),
  hLines('interchromosomal', tickCoords(interTicks), RED, 1.3, 0.7),
  hLines('intrachromosomal', tickCoords(intraTicks), BLUE, 1.3, 0.8),
  hLines('interchromosomal', linkCoords, RED, 1, 0.88),
  hLines('intrachromosomal', arcCoords, BLUE, 1, 0.9, true)
];

// free text, brackets and frames
const txt = (x, y, s, o) => ({
  type: 'text', x: x, y: y, z: 50,
  style: Object.assign({ text: s, fontFamily: FONT, fontSize: 9, fill: INK, align: 'center', verticalAlign: 'middle' }, o || {})
});
const letters = [['a',7,8],['b',401,7],['c',6,281],['d',256,280.5],['e',551.7,281],['f',5,476],['g',6.7,637],['h',340,476]];
const colX = [64, 111, 158, 205.7];
const graphic = [
  ...letters.map((l) => txt(l[1], l[2], l[0], { fontWeight: 'bold', fontSize: 11, fill: '#000' })),
  txt(291, 16, 'Repeat type', { fontSize: 10 }),
  txt(664.7, 19.7, 'Repeat content', { fontSize: 9.5 }),
  ...familyNames.map((f, i) => txt(colX[i], 325.7, f, { fontWeight: 'bold', fontSize: 9.5, fill: familyText[i] })),
  ...bonoboN.map((n, i) => txt(colX[i], 339.3, 'n = ' + n, { fontSize: 8.8 })),
  ...chimpN.map((n, i) => txt(colX[i], 446.3, 'n = ' + n, { fontSize: 8.8 })),
  txt(43.5, 368, 'Bonobo', { align: 'right', fontSize: 9.5 }),
  txt(44.5, 417, 'Chimp', { align: 'right', fontSize: 9.5 }),
  ...[[65, 284.3, 291.7], [112.3, 296.7, 303], [158.7, 308, 315]].map((b) => ({
    type: 'polyline', z: 50,
    shape: { points: [[b[0], b[2]], [b[0], b[1]], [207, b[1]], [207, b[2]]] },
    style: { stroke: '#111', lineWidth: 1.2, fill: 'none' }
  })),
  ...[[136, 281.7], [159.3, 294], [183, 305.7]].map((p) => txt(p[0], p[1] + 1, '*', { fontSize: 7 })),
  { type: 'line', z: 50, shape: { x1: 711.5, y1: 420.3, x2: 720, y2: 420.3 }, style: { stroke: '#666', lineWidth: 1 } },
  { type: 'rect', z: 1, shape: { x: 67.7, y: 480, width: 231.3, height: 124.3 }, style: { fill: 'none', stroke: '#dddddd', lineWidth: 1.5 } },
  { type: 'rect', z: 1, shape: { x: 68.3, y: 640.7, width: 231.7, height: 111 }, style: { fill: 'none', stroke: '#dddddd', lineWidth: 1.5 } },
  // chr1 scale numbers
  ...[50, 100, 150, 200].map((v) => txt(375.7 + v * 1.53, 496, String(v), { fontSize: 9.5 }))
];

const legendText = (size) => ({ fontFamily: FONT, fontSize: size, color: INK });
const legends = [
  { left: 270, top: 24, padding: 0, orient: 'vertical', itemWidth: 7, itemHeight: 7, itemGap: 5, textStyle: legendText(8),
    data: [['L1', '#f2b52e'], ['Satellite', '#c8312f'], ['SINE', '#2472bd'], ['lowRepeat', '#d4d4d4']].map((d) => ({
      name: d[0], icon: 'circle', itemStyle: { color: d[1], borderWidth: 0 } })) },
  { left: 635, top: 34, padding: 0, orient: 'vertical', itemWidth: 8, itemHeight: 8, itemGap: 5, textStyle: Object.assign(legendText(8.5), { padding: [0, 0, 0, 8] }),
    data: [['gt95', '#62c2a2'], ['le95', '#f6835a']].map((d) => ({ name: d[0], icon: 'circle', itemStyle: { color: d[1] } })) },
  { left: 304, top: 533, padding: 0, orient: 'vertical', itemWidth: 7, itemHeight: 7, itemGap: 0, textStyle: legendText(9.5),
    data: [{ name: 'inter', icon: 'rect' }, { name: 'intra', icon: 'rect' }] },
  { left: 304, top: 693, padding: 0, orient: 'vertical', itemWidth: 7, itemHeight: 7, itemGap: 0, textStyle: legendText(9.5),
    data: [{ name: 'inter', icon: 'rect' }, { name: 'intra', icon: 'rect' }] },
  { left: 635, top: 751, padding: 0, orient: 'vertical', itemWidth: 6, itemHeight: 6, itemGap: 1, textStyle: legendText(9),
    data: [{ name: 'interchromosomal', icon: 'rect', itemStyle: { color: RED, opacity: 1 } }, { name: 'intrachromosomal', icon: 'rect', itemStyle: { color: BLUE, opacity: 1 } }] }
];

chart.setOption({
  animation: false,
  backgroundColor: '#fff',
  grid: grids,
  xAxis: xAxes,
  yAxis: yAxes,
  legend: legends,
  series: series,
  graphic: graphic
});
</script>
</body>
</html>
